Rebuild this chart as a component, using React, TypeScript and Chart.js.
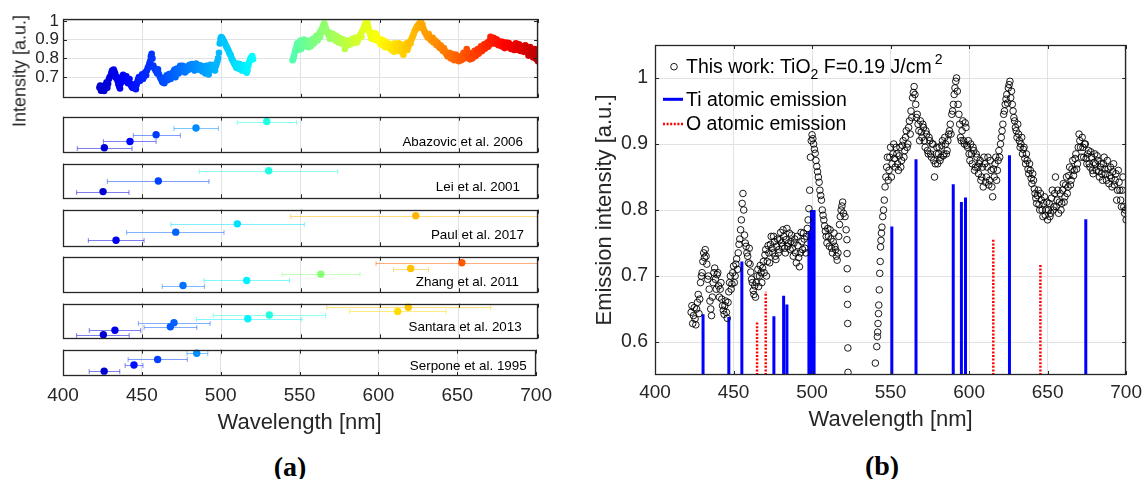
import React, { useEffect, useRef } from 'react';
import { Chart, registerables } from 'chart.js';

Chart.register(...registerables);

const FONT = '"Liberation Sans", Arial, Helvetica, sans-serif';
const TEXT = '#262626';
const GRID = '#e2e2e2';

// ---------- Data: measured spectrum (this work), integer-nm samples ----------
const spectrumWavelength = [
  423, 424, 425, 426, 427, 428, 429, 430, 431, 432,
  433, 434, 435, 436, 437, 438, 439, 440, 441, 442,
  443, 444, 445, 446, 447, 448, 449, 450, 451, 452,
  453, 454, 455, 456, 457, 458, 459, 460, 461, 462,
  463, 464, 465, 466, 467, 468, 469, 470, 471, 472,
  473, 474, 475, 476, 477, 478, 479, 480, 481, 482,
  483, 484, 485, 486, 487, 488, 489, 490, 491, 492,
  493, 494, 495, 496, 497, 498, 499, 500, 501, 502,
  503, 504, 505, 506, 507, 508, 509, 510, 511, 512,
  513, 514, 515, 516, 517, 518, 519, 520,
  545, 546, 547, 548, 549, 550, 551, 552, 553, 554,
  555, 556, 557, 558, 559, 560, 561, 562, 563, 564,
  565, 566, 567, 568, 569, 570, 571, 572, 573, 574,
  575, 576, 577, 578, 579, 580, 581, 582, 583, 584,
  585, 586, 587, 588, 589, 590, 591, 592, 593, 594,
  595, 596, 597, 598, 599, 600, 601, 602, 603, 604,
  605, 606, 607, 608, 609, 610, 611, 612, 613, 614,
  615, 616, 617, 618, 619, 620, 621, 622, 623, 624,
  625, 626, 627, 628, 629, 630, 631, 632, 633, 634,
  635, 636, 637, 638, 639, 640, 641, 642, 643, 644,
  645, 646, 647, 648, 649, 650, 651, 652, 653, 654,
  655, 656, 657, 658, 659, 660, 661, 662, 663, 664,
  665, 666, 667, 668, 669, 670, 671, 672, 673, 674,
  675, 676, 677, 678, 679, 680, 681, 682, 683, 684,
  685, 686, 687, 688, 689, 690, 691, 692, 693, 694,
  695, 696, 697, 698, 699, 700,
];
const spectrumIntensity = [
  0.645, 0.628, 0.652, 0.626, 0.660, 0.643, 0.690, 0.705, 0.735, 0.740,
  0.718, 0.700, 0.662, 0.640, 0.690, 0.712, 0.680, 0.705, 0.668, 0.690,
  0.655, 0.642, 0.662, 0.636, 0.676, 0.700, 0.688, 0.715, 0.700, 0.726,
  0.735, 0.756, 0.785, 0.825, 0.762, 0.745, 0.730, 0.742, 0.706, 0.690,
  0.672, 0.668, 0.700, 0.684, 0.716, 0.690, 0.722, 0.732, 0.700, 0.746,
  0.720, 0.760, 0.735, 0.752, 0.725, 0.756, 0.740, 0.766, 0.745, 0.760,
  0.735, 0.772, 0.750, 0.740, 0.762, 0.730, 0.756, 0.720, 0.746, 0.714,
  0.766, 0.740, 0.756, 0.735, 0.772, 0.802, 0.880, 0.914, 0.900, 0.886,
  0.866, 0.850, 0.830, 0.815, 0.792, 0.776, 0.760, 0.772, 0.745, 0.756,
  0.735, 0.765, 0.740, 0.724, 0.760, 0.790, 0.806, 0.795,
  0.790, 0.815, 0.850, 0.880, 0.860, 0.895, 0.870, 0.900, 0.865, 0.885,
  0.860, 0.895, 0.875, 0.905, 0.890, 0.920, 0.900, 0.935, 0.950, 0.970,
  0.987, 0.960, 0.945, 0.920, 0.935, 0.910, 0.925, 0.895, 0.915, 0.885,
  0.905, 0.880, 0.900, 0.850, 0.885, 0.870, 0.895, 0.880, 0.905, 0.885,
  0.900, 0.890, 0.915, 0.930, 0.945, 0.960, 0.985, 1.000, 0.960, 0.930,
  0.905, 0.935, 0.900, 0.925, 0.895, 0.885, 0.900, 0.870, 0.890, 0.865,
  0.880, 0.855, 0.875, 0.850, 0.835, 0.870, 0.850, 0.880, 0.845, 0.860,
  0.820, 0.850, 0.880, 0.860, 0.890, 0.900, 0.920, 0.945, 0.960, 0.975,
  0.985, 0.995, 0.980, 0.950, 0.935, 0.920, 0.930, 0.905, 0.900, 0.885,
  0.895, 0.870, 0.875, 0.855, 0.860, 0.840, 0.845, 0.825, 0.810, 0.830,
  0.800, 0.815, 0.790, 0.820, 0.800, 0.785, 0.810, 0.795, 0.830, 0.805,
  0.850, 0.815, 0.795, 0.825, 0.810, 0.840, 0.820, 0.850, 0.835, 0.865,
  0.845, 0.875, 0.860, 0.885, 0.870, 0.915, 0.895, 0.910, 0.880, 0.900,
  0.870, 0.890, 0.865, 0.880, 0.855, 0.885, 0.860, 0.875, 0.850, 0.870,
  0.845, 0.880, 0.855, 0.875, 0.840, 0.865, 0.835, 0.870, 0.845, 0.815,
  0.860, 0.830, 0.805, 0.850, 0.795, 0.785,
];
// ---------- measured spectrum, half-nm samples ----------
const spectrumHalfWavelength = [
  423.5, 424.5, 425.5, 426.5, 427.5, 428.5, 429.5, 430.5, 431.5, 432.5,
  433.5, 434.5, 435.5, 436.5, 437.5, 438.5, 439.5, 440.5, 441.5, 442.5,
  443.5, 444.5, 445.5, 446.5, 447.5, 448.5, 449.5, 450.5, 451.5, 452.5,
  453.5, 454.5, 455.5, 456.5, 457.5, 458.5, 459.5, 460.5, 461.5, 462.5,
  463.5, 464.5, 465.5, 466.5, 467.5, 468.5, 469.5, 470.5, 471.5, 472.5,
  473.5, 474.5, 475.5, 476.5, 477.5, 478.5, 479.5, 480.5, 481.5, 482.5,
  483.5, 484.5, 485.5, 486.5, 487.5, 488.5, 489.5, 490.5, 491.5, 492.5,
  493.5, 494.5, 495.5, 496.5, 497.5, 498.5, 499.5, 500.5, 501.5, 502.5,
  503.5, 504.5, 505.5, 506.5, 507.5, 508.5, 509.5, 510.5, 511.5, 512.5,
  513.5, 514.5, 515.5, 516.5, 517.5, 518.5, 519.5,
  545.5, 546.5, 547.5, 548.5, 549.5, 550.5, 551.5, 552.5, 553.5, 554.5,
  555.5, 556.5, 557.5, 558.5, 559.5, 560.5, 561.5, 562.5, 563.5, 564.5,
  565.5, 566.5, 567.5, 568.5, 569.5, 570.5, 571.5, 572.5, 573.5, 574.5,
  575.5, 576.5, 577.5, 578.5, 579.5, 580.5, 581.5, 582.5, 583.5, 584.5,
  585.5, 586.5, 587.5, 588.5, 589.5, 590.5, 591.5, 592.5, 593.5, 594.5,
  595.5, 596.5, 597.5, 598.5, 599.5, 600.5, 601.5, 602.5, 603.5, 604.5,
  605.5, 606.5, 607.5, 608.5, 609.5, 610.5, 611.5, 612.5, 613.5, 614.5,
  615.5, 616.5, 617.5, 618.5, 619.5, 620.5, 621.5, 622.5, 623.5, 624.5,
  625.5, 626.5, 627.5, 628.5, 629.5, 630.5, 631.5, 632.5, 633.5, 634.5,
  635.5, 636.5, 637.5, 638.5, 639.5, 640.5, 641.5, 642.5, 643.5, 644.5,
  645.5, 646.5, 647.5, 648.5, 649.5, 650.5, 651.5, 652.5, 653.5, 654.5,
  655.5, 656.5, 657.5, 658.5, 659.5, 660.5, 661.5, 662.5, 663.5, 664.5,
  665.5, 666.5, 667.5, 668.5, 669.5, 670.5, 671.5, 672.5, 673.5, 674.5,
  675.5, 676.5, 677.5, 678.5, 679.5, 680.5, 681.5, 682.5, 683.5, 684.5,
  685.5, 686.5, 687.5, 688.5, 689.5, 690.5, 691.5, 692.5, 693.5, 694.5,
  695.5, 696.5, 697.5, 698.5, 699.5,
];
const spectrumHalfIntensity = [
  0.655, 0.640, 0.635, 0.650, 0.672, 0.665, 0.700, 0.722, 0.728, 0.730,
  0.695, 0.680, 0.650, 0.668, 0.705, 0.695, 0.702, 0.685, 0.680, 0.665,
  0.648, 0.655, 0.645, 0.660, 0.690, 0.680, 0.705, 0.690, 0.718, 0.710,
  0.748, 0.770, 0.810, 0.800, 0.750, 0.735, 0.720, 0.718, 0.695, 0.678,
  0.685, 0.690, 0.710, 0.700, 0.705, 0.712, 0.705, 0.740, 0.722, 0.735,
  0.748, 0.742, 0.760, 0.730, 0.745, 0.735, 0.755, 0.750, 0.770, 0.742,
  0.755, 0.745, 0.765, 0.752, 0.742, 0.750, 0.735, 0.760, 0.728, 0.735,
  0.752, 0.765, 0.742, 0.760, 0.785, 0.830, 0.905, 0.908, 0.892, 0.875,
  0.858, 0.842, 0.822, 0.800, 0.785, 0.768, 0.750, 0.760, 0.770, 0.742,
  0.752, 0.745, 0.730, 0.735, 0.778, 0.800, 0.812,
  0.800, 0.835, 0.865, 0.845, 0.880, 0.850, 0.885, 0.878, 0.895, 0.870,
  0.882, 0.865, 0.898, 0.880, 0.910, 0.895, 0.925, 0.915, 0.940, 0.978,
  0.975, 0.940, 0.930, 0.905, 0.918, 0.930, 0.905, 0.920, 0.890, 0.910,
  0.885, 0.900, 0.875, 0.870, 0.895, 0.885, 0.875, 0.898, 0.882, 0.910,
  0.885, 0.905, 0.920, 0.915, 0.950, 0.975, 0.995, 0.980, 0.945, 0.910,
  0.920, 0.905, 0.932, 0.898, 0.905, 0.875, 0.885, 0.895, 0.860, 0.885,
  0.865, 0.870, 0.845, 0.865, 0.880, 0.842, 0.865, 0.838, 0.875, 0.835,
  0.862, 0.870, 0.845, 0.875, 0.880, 0.910, 0.930, 0.950, 0.968, 0.962,
  0.990, 0.970, 0.960, 0.940, 0.925, 0.910, 0.915, 0.895, 0.910, 0.892,
  0.878, 0.885, 0.862, 0.870, 0.848, 0.855, 0.832, 0.818, 0.822, 0.808,
  0.825, 0.800, 0.810, 0.792, 0.812, 0.800, 0.790, 0.818, 0.800, 0.825,
  0.805, 0.830, 0.812, 0.800, 0.830, 0.812, 0.838, 0.825, 0.852, 0.838,
  0.862, 0.852, 0.878, 0.862, 0.895, 0.905, 0.880, 0.895, 0.900, 0.878,
  0.885, 0.870, 0.888, 0.860, 0.872, 0.870, 0.882, 0.858, 0.865, 0.855,
  0.870, 0.862, 0.845, 0.862, 0.852, 0.848, 0.858, 0.838, 0.855, 0.830,
  0.842, 0.815, 0.830, 0.805, 0.800,
];
// steep edges around the gap (shown only in panel b)
const edgeWavelength = [
  521.0, 521.7, 522.2, 522.3, 522.4, 522.5, 522.6, 522.7, 522.8, 522.9,
  540.3, 541.2, 541.6, 541.8, 542.0, 542.3, 542.5, 542.8, 543.1, 543.4,
  543.6, 543.9, 544.2, 544.5,
];
const edgeIntensity = [
  0.790, 0.770, 0.755, 0.734, 0.711, 0.680, 0.657, 0.628, 0.591, 0.554,
  0.568, 0.593, 0.608, 0.615, 0.628, 0.643, 0.656, 0.679, 0.704, 0.722,
  0.744, 0.754, 0.765, 0.774,
];

// ---------- Data: atomic emission lines ----------
const tiWavelength = [430.6, 447.0, 455.3, 475.7, 481.9, 484.0, 498.0, 499.6, 500.6, 501.3, 550.8, 566.2, 589.9, 595.1, 597.7, 625.7, 674.3];
const tiIntensity = [0.642, 0.638, 0.722, 0.639, 0.670, 0.657, 0.768, 0.800, 0.800, 0.800, 0.775, 0.877, 0.839, 0.812, 0.819, 0.883, 0.786];
const oWavelength = [465.0, 470.5, 615.4, 645.4];
const oIntensity = [0.632, 0.676, 0.755, 0.717];

// ---------- Data: literature peaks (center, error range, row) ----------
const studyNames = ['Abazovic et al. 2006', 'Lei et al. 2001', 'Paul et al. 2017', 'Zhang et al. 2011', 'Santara et al. 2013', 'Serpone et al. 1995'];
const abazovicPeak = [426.1, 442.3, 458.8, 484.0, 528.7];
const abazovicLow = [409.0, 425.5, 444.4, 470.1, 510.1];
const abazovicHigh = [443.6, 458.8, 474.1, 498.1, 547.6];
const abazovicRow = [0.127, 0.305, 0.495, 0.684, 0.865];
const leiPeak = [425.3, 460.2, 529.9];
const leiLow = [408.6, 428.0, 486.1];
const leiHigh = [441.7, 492.2, 573.5];
const leiRow = [0.194, 0.5, 0.797];
const paulPeak = [433.5, 471.2, 510.1, 622.8];
const paulLow = [416.0, 440.2, 468.2, 543.8];
const paulHigh = [451.2, 501.7, 552.4, 701.8];
const paulRow = [0.166, 0.387, 0.613, 0.834];
const zhangPeak = [475.8, 516.0, 562.8, 619.6, 651.9];
const zhangLow = [462.7, 489.1, 538.5, 608.7, 597.7];
const zhangHigh = [489.3, 543.0, 587.6, 630.8, 706.1];
const zhangRow = [0.189, 0.332, 0.505, 0.668, 0.83];
const santaraPeak = [425.5, 432.8, 467.8, 470.1, 516.7, 530.3, 611.4, 618.1];
const santaraLow = [408.6, 416.6, 451.2, 447.6, 484.2, 494.9, 580.9, 566.6];
const santaraHigh = [441.8, 449.1, 484.5, 492.9, 550.8, 565.9, 642.0, 670.2];
const santaraRow = [0.103, 0.231, 0.333, 0.453, 0.564, 0.675, 0.778, 0.897];
const serponePeak = [426.1, 445.0, 460.0, 484.8];
const serponeLow = [416.6, 439.4, 441.3, 478.6];
const serponeHigh = [436.0, 450.7, 478.8, 491.8];
const serponeRow = [0.185, 0.419, 0.63, 0.863];

// ---------- Axis ticks ----------
const wavelengthTicks = [400, 450, 500, 550, 600, 650, 700];
const topIntensityTicks = [0.7, 0.8, 0.9, 1];
const emissionTicks = [0.6, 0.7, 0.8, 0.9, 1];
const WL_MIN = 400;
const WL_MAX = 700;
const EMISSION_MIN = 0.55;
const EMISSION_MAX = 1.05;

const studies = [
  { name: studyNames[0], peak: abazovicPeak, low: abazovicLow, high: abazovicHigh, row: abazovicRow },
  { name: studyNames[1], peak: leiPeak, low: leiLow, high: leiHigh, row: leiRow },
  { name: studyNames[2], peak: paulPeak, low: paulLow, high: paulHigh, row: paulRow },
  { name: studyNames[3], peak: zhangPeak, low: zhangLow, high: zhangHigh, row: zhangRow },
  { name: studyNames[4], peak: santaraPeak, low: santaraLow, high: santaraHigh, row: santaraRow },
  { name: studyNames[5], peak: serponePeak, low: serponeLow, high: serponeHigh, row: serponeRow },
];

// layout of the stacked panels in (a): [top, bottom, label right edge, label baseline]
const panelBoxes = [
  [116, 153, 523, 146],
  [163, 199, 520, 191.7],
  [209, 247, 524, 239.3],
  [256, 293, 519, 286],
  [303, 339, 521.7, 331.7],
  [349, 376, 526.7, 370.7],
];

function jet(w: number, alpha = 1): string {
  const t = Math.min(1, Math.max(0, (w - 400) / 320));
  const c = (v: number) => Math.round(255 * Math.min(1, Math.max(0, v)));
  const r = c(1.5 - Math.abs(4 * t - 3));
  const g = c(1.5 - Math.abs(4 * t - 2));
  const b = c(1.5 - Math.abs(4 * t - 1));
  return `rgba(${r},${g},${b},${alpha})`;
}

const boxPlugin = {
  id: 'matlabBox',
  afterDraw(chart: any, _args: any, opts: any) {
    const { ctx, chartArea } = chart;
    const { left, right, top, bottom } = chartArea;
    const len = 4;
    ctx.save();
    ctx.strokeStyle = TEXT;
    ctx.lineWidth = 1;
    ctx.beginPath();
    const xs = chart.scales.x;
    for (const t of xs.ticks) {
      const p = Math.round(xs.getPixelForValue(t.value)) + 0.5;
      ctx.moveTo(p, bottom);
      ctx.lineTo(p, bottom - len);
      ctx.moveTo(p, top);
      ctx.lineTo(p, top + len);
    }
    if (opts && opts.yTicks) {
      const ys = chart.scales.y;
      for (const t of ys.ticks) {
        const p = Math.round(ys.getPixelForValue(t.value)) + 0.5;
        ctx.moveTo(left, p);
        ctx.lineTo(left + len, p);
        ctx.moveTo(right, p);
        ctx.lineTo(right - len, p);
      }
    }
    ctx.stroke();
    ctx.lineWidth = 1.3;
    ctx.strokeRect(Math.round(left) + 0.5, Math.round(top) + 0.5, Math.round(right - left) - 1, Math.round(bottom - top) - 1);
    ctx.restore();
  },
};

const errorBarPlugin = {
  id: 'errorBars',
  beforeDatasetsDraw(chart: any) {
    const { ctx, chartArea: a, scales } = chart;
    const xs = scales.x;
    const ys = scales.y;
    ctx.save();
    ctx.beginPath();
    ctx.rect(a.left, a.top, a.right - a.left, a.bottom - a.top);
    ctx.clip();
    ctx.lineWidth = 1;
    chart.data.datasets.forEach((ds: any) => {
      ds.data.forEach((d: any) => {
        if (d.lo == null) return;
        const py = Math.round(ys.getPixelForValue(d.y)) + 0.5;
        const x1 = xs.getPixelForValue(d.lo);
        const x2 = xs.getPixelForValue(d.hi);
        ctx.strokeStyle = jet(d.x, 0.5);
        ctx.beginPath();
        ctx.moveTo(x1, py);
        ctx.lineTo(x2, py);
        ctx.moveTo(x1, py - 2.5);
        ctx.lineTo(x1, py + 2.5);
        ctx.moveTo(x2, py - 2.5);
        ctx.lineTo(x2, py + 2.5);
        ctx.stroke();
      });
    });
    ctx.restore();
  },
};

function wavelengthAxis(labels: boolean, height: number, tickPad: number, titlePadBottom: number) {
  return {
    type: 'linear',
    min: WL_MIN,
    max: WL_MAX,
    afterBuildTicks: (s: any) => {
      s.ticks = wavelengthTicks.map((v) => ({ value: v }));
    },
    afterFit: (s: any) => {
      s.height = height;
    },
    grid: { color: GRID, lineWidth: 1, drawTicks: false },
    border: { display: false },
    ticks: {
      display: labels,
      autoSkip: false,
      maxRotation: 0,
      padding: tickPad,
      color: TEXT,
      font: { family: FONT, size: 19 },
      callback: (v: any) => String(v),
    },
    title: {
      display: labels,
      text: 'Wavelength [nm]',
      color: TEXT,
      font: { family: FONT, size: 22 },
      padding: { top: 0, bottom: titlePadBottom },
    },
  };
}

const baseOptions = {
  animation: false,
  responsive: false,
  events: [],
};

function spectrumPoints() {
  const a = spectrumWavelength.map((w, i) => ({ x: w, y: spectrumIntensity[i] }));
  const b = spectrumHalfWavelength.map((w, i) => ({ x: w, y: spectrumHalfIntensity[i] }));
  return a.concat(b).sort((p, q) => p.x - q.x);
}

function makeTop() {
  return {
    type: 'scatter',
    data: {
      datasets: [
        {
          data: spectrumPoints(),
          pointRadius: 3.3,
          pointHoverRadius: 3.3,
          pointBorderWidth: 0,
          pointBackgroundColor: (c: any) => jet(c.raw ? c.raw.x : 550),
        },
      ],
    },
    options: {
      ...baseOptions,
      layout: { padding: { left: 0, right: 22, top: 19, bottom: 5 } },
      plugins: { legend: { display: false }, tooltip: { enabled: false }, matlabBox: { yTicks: true } },
      scales: {
        x: wavelengthAxis(false, 0, 0, 0),
        y: {
          type: 'linear',
          min: 0.59,
          max: 1.01,
          afterBuildTicks: (s: any) => {
            s.ticks = topIntensityTicks.map((v) => ({ value: v }));
          },
          afterFit: (s: any) => {
            s.width = 63;
          },
          grid: { color: GRID, drawTicks: false },
          border: { display: false },
          ticks: { padding: 4, color: TEXT, font: { family: FONT, size: 17 }, callback: (v: any) => String(v) },
        },
      },
    },
    plugins: [boxPlugin],
  };
}

function makeStudy(s: any, last: boolean) {
  return () => ({
    type: 'scatter',
    data: {
      datasets: [
        {
          data: s.peak.map((p: number, i: number) => ({ x: p, y: s.row[i], lo: s.low[i], hi: s.high[i] })),
          pointRadius: 3.7,
          pointHoverRadius: 3.7,
          pointBorderWidth: 0,
          pointBackgroundColor: (c: any) => jet(c.raw ? c.raw.x : 550),
          clip: false,
        },
      ],
    },
    options: {
      ...baseOptions,
      layout: { padding: { left: 63, right: 22, top: 3, bottom: last ? 0 : 3 } },
      plugins: { legend: { display: false }, tooltip: { enabled: false }, matlabBox: { yTicks: false } },
      scales: {
        x: last ? wavelengthAxis(true, 70, 8, 10) : wavelengthAxis(false, 0, 0, 0),
        y: { display: false, min: 0, max: 1 },
      },
    },
    plugins: [errorBarPlugin, boxPlugin],
  });
}

function linePoints(ws: number[], vs: number[]) {
  const pts: any[] = [];
  ws.forEach((w, i) => {
    pts.push({ x: w, y: EMISSION_MIN }, { x: w, y: vs[i] }, { x: w, y: null });
  });
  return pts;
}

function makeEmission() {
  const measured = spectrumPoints().concat(edgeWavelength.map((w, i) => ({ x: w, y: edgeIntensity[i] })));
  return {
    type: 'scatter',
    data: {
      datasets: [
        {
          type: 'scatter',
          label: 'This work',
          data: measured,
          pointRadius: 3.3,
          pointHoverRadius: 3.3,
          pointBorderWidth: 0.9,
          pointBorderColor: '#000000',
          pointBackgroundColor: 'rgba(0,0,0,0)',
        },
        {
          type: 'line',
          label: 'Ti atomic emission',
          data: linePoints(tiWavelength, tiIntensity),
          borderColor: '#0000ff',
          borderWidth: 3,
          borderCapStyle: 'butt',
          pointRadius: 0,
          spanGaps: false,
          fill: false,
        },
        {
          type: 'line',
          label: 'O atomic emission',
          data: linePoints(oWavelength, oIntensity),
          borderColor: '#ff0000',
          borderWidth: 2.5,
          borderDash: [2, 1.6],
          borderCapStyle: 'butt',
          pointRadius: 0,
          spanGaps: false,
          fill: false,
        },
      ],
    },
    options: {
      ...baseOptions,
      layout: { padding: { left: 0, right: 19, top: 45, bottom: 0 } },
      plugins: { legend: { display: false }, tooltip: { enabled: false }, matlabBox: { yTicks: true } },
      scales: {
        x: wavelengthAxis(true, 70, 6, 12),
        y: {
          type: 'linear',
          min: EMISSION_MIN,
          max: EMISSION_MAX,
          afterBuildTicks: (s: any) => {
            s.ticks = emissionTicks.map((v) => ({ value: v }));
          },
          afterFit: (s: any) => {
            s.width = 95;
          },
          grid: { color: GRID, drawTicks: false },
          border: { display: false },
          ticks: { padding: 7, color: TEXT, font: { family: FONT, size: 19.5 }, callback: (v: any) => String(v) },
          title: {
            display: true,
            text: 'Emission intensity [a.u.]',
            color: TEXT,
            font: { family: FONT, size: 22 },
            padding: { top: 32, bottom: 0 },
          },
        },
      },
    },
    plugins: [boxPlugin],
  };
}

function ChartCanvas({ left, top, width, height, make }: { left: number; top: number; width: number; height: number; make: () => any }) {
  const ref = useRef<HTMLCanvasElement | null>(null);
  useEffect(() => {
    if (!ref.current) return;
    const chart = new Chart(ref.current, make());
    return () => chart.destroy();
  }, []);
  return (
    <canvas
      ref={ref}
      width={width}
      height={height}
      style={{ position: 'absolute', left, top, width, height }}
    />
  );
}

const legendText: React.CSSProperties = {
  position: 'absolute',
  left: 686,
  fontSize: 19.5,
  lineHeight: '19.5px',
  whiteSpace: 'nowrap',
  color: '#000',
};

export default function App() {
  return (
    <div
      style={{
        position: 'absolute',
        left: 0,
        top: 0,
        width: 1148,
        height: 479,
        background: '#ffffff',
        fontFamily: FONT,
        color: TEXT,
        overflow: 'hidden',
      }}
    >
      <ChartCanvas left={0} top={0} width={560} height={112} make={makeTop} />
      {studies.map((s, i) => {
        const [t, b] = panelBoxes[i];
        const last = i === studies.length - 1;
        const h = last ? 446 - (t - 3) : b - t + 6;
        return <ChartCanvas key={s.name} left={0} top={t - 3} width={560} height={h} make={makeStudy(s, last)} />;
      })}
      {studies.map((s, i) => {
        const [, , rightEdge, baseline] = panelBoxes[i];
        return (
          <div
            key={'lbl' + s.name}
            style={{
              position: 'absolute',
              right: 1148 - rightEdge,
              top: baseline - 11.3,
              fontSize: 13.4,
              lineHeight: '13.4px',
              whiteSpace: 'nowrap',
              color: '#000',
            }}
          >
            {s.name}
          </div>
        );
      })}
      <div
        style={{
          position: 'absolute',
          left: 20,
          top: 71,
          transform: 'translate(-50%, -50%) rotate(-90deg)',
          fontSize: 18,
          whiteSpace: 'nowrap',
          color: TEXT,
        }}
      >
        Intensity [a.u.]
      </div>

      <ChartCanvas left={560} top={0} width={588} height={445} make={makeEmission} />

      <svg style={{ position: 'absolute', left: 655, top: 45 }} width={60} height={100}>
        <circle cx={19} cy={21.7} r={3.3} fill="none" stroke="#000" strokeWidth={0.9} />
        <line x1={8} y1={54.3} x2={28} y2={54.3} stroke="#0000ff" strokeWidth={3} />
        <line x1={8} y1={79} x2={28} y2={79} stroke="#ff0000" strokeWidth={2.5} strokeDasharray="2 1.6" />
      </svg>
      <div style={{ ...legendText, top: 56.8 }}>
        This work: TiO
        <span style={{ fontSize: '0.72em', position: 'relative', top: '0.45em', lineHeight: 0 }}>2</span> F=0.19 J/cm
        <span style={{ fontSize: '0.72em', position: 'relative', top: '-0.6em', lineHeight: 0, marginLeft: 3 }}>2</span>
      </div>
      <div style={{ ...legendText, top: 89.5 }}>Ti atomic emission</div>
      <div style={{ ...legendText, top: 113.5 }}>O atomic emission</div>

      <div
        style={{
          position: 'absolute',
          left: 290,
          top: 467,
          transform: 'translate(-50%, -50%)',
          fontFamily: '"Liberation Serif", "Times New Roman", serif',
          fontWeight: 'bold',
          fontSize: 28,
          color: '#000',
          whiteSpace: 'nowrap',
        }}
      >
        (a)
      </div>
      <div
        style={{
          position: 'absolute',
          left: 882,
          top: 466,
          transform: 'translate(-50%, -50%)',
          fontFamily: '"Liberation Serif", "Times New Roman", serif',
          fontWeight: 'bold',
          fontSize: 28,
          color: '#000',
          whiteSpace: 'nowrap',
        }}
      >
        (b)
      </div>
    </div>
  );
}
